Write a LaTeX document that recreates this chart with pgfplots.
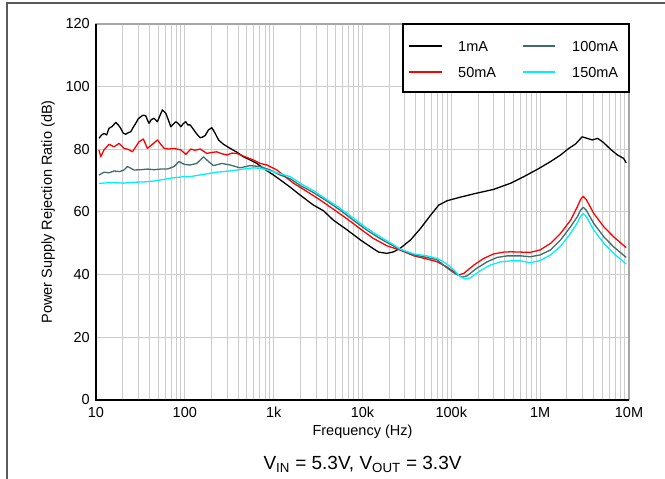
\documentclass[border=0pt]{standalone}
\usepackage{fontspec}
\setmainfont{Liberation Sans}
\usepackage{pgfplots}
\pgfplotsset{compat=1.18}
\definecolor{slate}{RGB}{64,108,108}
\definecolor{aqua}{RGB}{0,240,255}
\definecolor{gridgray}{RGB}{204,204,204}
\definecolor{framegray}{RGB}{90,90,90}
\begin{document}
\begin{tikzpicture}
\path[use as bounding box] (0,0) rectangle (665bp,479bp);
\draw[framegray, line width=1.3bp] (7bp,0bp) -- (7bp,476bp) -- (665bp,476bp);
\begin{axis}[
  name=ax,
  at={(96bp,79bp)}, anchor=south west,
  scale only axis, width=533bp, height=376bp,
  xmode=log, xmin=10, xmax=1e7, ymin=0, ymax=120,
  xtick={10,100,1000,10000,100000,1000000,10000000},
  xticklabels={10,100,1k,10k,100k,1M,10M},
  ytick={0,20,40,60,80,100,120},
  yticklabels={0,20,40,60,80,100,120},
  major tick length=0pt, minor tick length=0pt,
  xmajorgrids, xminorgrids, ymajorgrids,
  major grid style={gridgray, line width=1bp},
  minor grid style={gridgray, line width=1bp},
  axis line style={draw=gray!70, line width=1.5bp},
  tick label style={font=\fontsize{14.5bp}{17bp}\selectfont, inner sep=0pt},
  xticklabel shift=7bp, yticklabel shift=6bp,
  label style={font=\fontsize{14.5bp}{17bp}\selectfont},
  xlabel={Frequency (Hz)},
  ylabel={Power Supply Rejection Ratio (dB)},
  xlabel style={at={(axis description cs:0.5,-0.085)}, anchor=center},
  ylabel style={at={(axis description cs:-0.09,0.5)}, anchor=center},
  line join=round,
]
\addplot[draw=black, line width=1.3bp] coordinates {
(10.8,83.5)(11.5,84.5)(12.3,85.1)(13.2,84.6)(14.0,86.7)(15.2,87.3)(16.7,88.6)(17.8,87.8)(19.0,86.7)(20.2,85.2)(21.6,84.8)(23,85.3)(24.6,85.6)(26.2,87.0)(28.0,88.3)(30,89.8)(31.9,90.4)(34,90.9)(36.3,90.7)(38,89.3)(39.6,88.3)(42,89.5)(45.1,89.9)(49.1,88.8)(52,90.5)(55.9,92.6)(61.1,91.5)(65,89.5)(69.5,87.2)(74,88.0)(79.2,88.8)(84,88.3)(90.2,87.2)(96,88.2)(102.6,88.8)(108,87.8)(114.8,87.8)(122,86.8)(130.6,85.6)(140,84.5)(148.7,83.7)(158,83.9)(169.3,84.4)(184.6,86.2)(201.5,86.9)(219.6,85.1)(239.3,83.0)(272.5,81.6)(324,80.3)(385,79.1)(457,77.6)(544,76.6)(647,75.5)(769,73.9)(996,71.8)(1291,69.5)(1538,67.9)(1985,65.4)(2805,62.2)(3634,60.4)(4700,57.4)(6700,54.3)(9460,51.1)(12300,48.9)(15200,47.2)(18900,46.8)(22500,47.3)(26800,48.5)(34800,51.1)(45100,54.8)(58500,59.0)(72100,62.2)(89800,63.6)(125000,64.7)(192000,66.0)(298000,67.2)(467000,69.2)(656000,71.3)(928000,73.6)(1310000,76.1)(1700000,78.2)(2100000,80.3)(2500000,81.7)(2970000,84.0)(3380000,83.5)(3850000,83.0)(4450000,83.5)(5200000,82.1)(6200000,80.0)(7400000,78.2)(8700000,77.1)(9300000,75.7)
};
\addplot[draw=red, line width=1.3bp] coordinates {
(10.8,79.8)(11.3,77.6)(12.3,79.8)(14.0,81.6)(16.0,80.8)(18.2,81.9)(20.7,80.3)(23,80.0)(25.7,79.2)(28.0,80.8)(30.5,82.4)(34.1,83.3)(37.9,80.3)(43.2,81.6)(49.1,83.0)(53,81.8)(58.5,80.3)(66.5,80.1)(75.6,80.3)(90.2,79.8)(102.6,78.4)(116.9,80.1)(130,79.7)(148.7,80.1)(177,78.7)(200,79.0)(229,79.2)(260,78.6)(297,78.2)(340,78.8)(385,78.7)(479,77.6)(593,76.6)(705,75.5)(840,75.0)(1087,73.4)(1300,71.6)(1670,69.2)(2380,66.5)(3350,63.8)(4700,60.9)(6700,57.8)(9460,54.6)(13200,51.6)(18900,49.2)(26800,47.8)(38000,46.0)(53200,45.0)(69300,44.1)(86900,42.6)(109000,40.8)(120000,39.9)(138000,40.4)(180000,43.1)(232000,45.2)(298000,46.6)(388000,47.2)(467000,47.3)(608000,47.2)(770000,47.1)(1000000,47.9)(1310000,50.0)(1700000,53.2)(2200000,57.4)(2620000,61.7)(2850000,64.0)(3050000,65.0)(3300000,64.0)(4000000,59.6)(5200000,55.3)(6700000,52.1)(9300000,48.6)
};
\addplot[draw=slate, line width=1.3bp] coordinates {
(10.8,71.8)(12.3,72.7)(14,72.5)(16.0,73.1)(18.5,72.9)(20.7,73.4)(22.5,74.5)(24.5,74.0)(26.8,73.4)(32,73.5)(37.9,73.7)(45,73.5)(53.6,73.7)(63.6,73.7)(75.6,74.5)(86.0,76.1)(98.5,75.2)(114.8,75.0)(136,75.5)(162,77.6)(185,76.1)(210,74.8)(261,75.5)(324,75.0)(419,74.1)(544,74.8)(705,74.5)(914,73.4)(1185,71.8)(1538,70.6)(1985,68.5)(2805,66.2)(3960,63.5)(5600,60.6)(7950,57.3)(11200,54.2)(15800,51.5)(22500,49.1)(26800,48.0)(38000,46.3)(53200,45.5)(69300,44.7)(87000,42.4)(109000,40.4)(132000,39.2)(150000,39.6)(192000,42.0)(253000,44.1)(327000,45.5)(426000,46.0)(608000,46.0)(770000,45.7)(1000000,46.3)(1310000,47.9)(1700000,51.1)(2200000,55.3)(2620000,58.5)(2850000,60.6)(3050000,61.5)(3300000,60.6)(4000000,56.4)(5200000,52.1)(6700000,48.9)(9300000,45.5)
};
\addplot[draw=aqua, line width=1.3bp] coordinates {
(10.8,69.1)(13,69.3)(16,69.4)(20,69.2)(26.8,69.5)(35,69.6)(45.1,69.9)(55,70.3)(69.5,70.8)(80,71.0)(98.5,71.3)(114.8,71.3)(127,71.5)(162,72.0)(229,72.7)(324,73.1)(457,73.7)(593,74.1)(735,73.9)(914,73.1)(1185,72.2)(1538,71.3)(1985,69.2)(2805,66.8)(3960,64.0)(5600,61.2)(7950,58.0)(11200,54.8)(15800,52.1)(22500,49.5)(26800,48.1)(38000,46.6)(53200,46.0)(69300,45.2)(86900,43.6)(109000,41.3)(125000,39.4)(143000,38.6)(164000,39.0)(212000,41.3)(276000,43.1)(360000,44.1)(467000,44.4)(608000,44.4)(770000,43.8)(1000000,44.5)(1310000,46.3)(1700000,49.1)(2200000,53.2)(2620000,56.6)(2850000,58.6)(3050000,59.5)(3300000,58.6)(4000000,54.3)(5200000,50.0)(6700000,46.8)(9300000,43.4)
};
\end{axis}
\draw[black, line width=2bp] (ax.north west) -- (ax.south west) -- (ax.south east);
% legend
\draw[black, line width=1.8bp, fill=white] (403bp,387bp) rectangle (629bp,455bp);
\begin{scope}[line width=1.6bp]
\draw[black] (409bp,433bp) -- (442bp,433bp);
\draw[red]   (409bp,407bp) -- (442bp,407bp);
\draw[slate] (523bp,433bp) -- (555bp,433bp);
\draw[aqua]  (523bp,407bp) -- (555bp,407bp);
\end{scope}
\begin{scope}[every node/.style={anchor=base west, inner sep=0pt, font=\fontsize{14.5bp}{17bp}\selectfont}]
\node at (458bp,427.8bp) {1mA};
\node at (458bp,401.8bp) {50mA};
\node at (572bp,427.8bp) {100mA};
\node at (572bp,401.8bp) {150mA};
\end{scope}
\node[anchor=base, font=\fontsize{19bp}{22bp}\selectfont] at ([yshift=-69bp]ax.south)
  {V\textsubscript{IN} = 5.3V, V\textsubscript{OUT} = 3.3V};
\end{tikzpicture}
\end{document}
